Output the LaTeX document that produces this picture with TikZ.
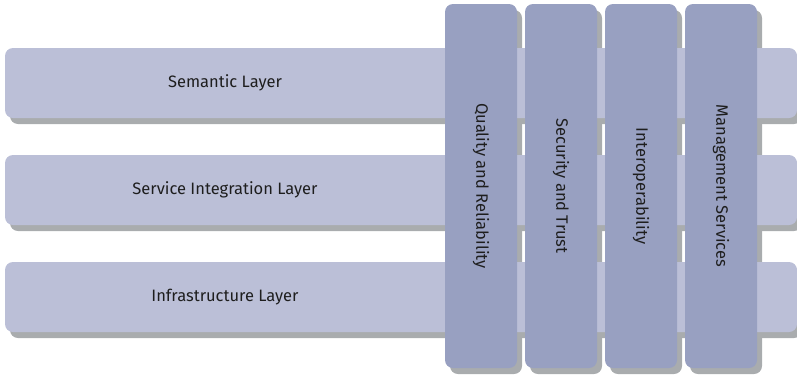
\documentclass[tikz,border=0pt]{standalone}
\usepackage{fontspec}
\setmainfont{Fira Sans}
\definecolor{hbar}{HTML}{BBBFD7}
\definecolor{vbar}{HTML}{98A0C1}
\definecolor{shad}{HTML}{A9ACAE}
\definecolor{txt}{HTML}{1E1E1E}
\begin{document}
\begin{tikzpicture}[x=1pt,y=-1pt,
  hlayer/.style={fill=hbar,rounded corners=8pt,draw=none},
  vlayer/.style={fill=vbar,rounded corners=8pt,draw=none},
  shadowbox/.style={fill=shad,rounded corners=8pt,draw=none},
  lbl/.style={text=txt,font=\fontsize{16.5}{19}\selectfont,inner sep=0pt}]
\useasboundingbox (0,0) rectangle (797,378);
% vertical shadows
\foreach \x in {445,525,605,685}{
  \fill[shadowbox] (\x+5,4+6) rectangle (\x+72+5,368+6);
}
% horizontal shadows and bars
\foreach \y in {48,155,262}{
  \fill[shadowbox] (5+5,\y+6) rectangle (797+5,\y+70+6);
}
\foreach \y in {48,155,262}{
  \fill[hlayer] (5,\y) rectangle (797,\y+70);
}
% vertical bars
\foreach \x in {445,525,605,685}{
  \fill[vlayer] (\x,4) rectangle (\x+72,368);
}
\node[lbl] (sem) at (225,83) {Semantic Layer};
\node[lbl] (sil) at (225,190) {Service Integration Layer};
\node[lbl] (inf) at (225,297) {Infrastructure Layer};
\node[lbl,rotate=-90] (qr) at (481,186) {Quality and Reliability};
\node[lbl,rotate=-90] (st) at (561,186) {Security and Trust};
\node[lbl,rotate=-90] (io) at (641,186) {Interoperability};
\node[lbl,rotate=-90] (ms) at (721,186) {Management Services};
\end{tikzpicture}
\end{document}
